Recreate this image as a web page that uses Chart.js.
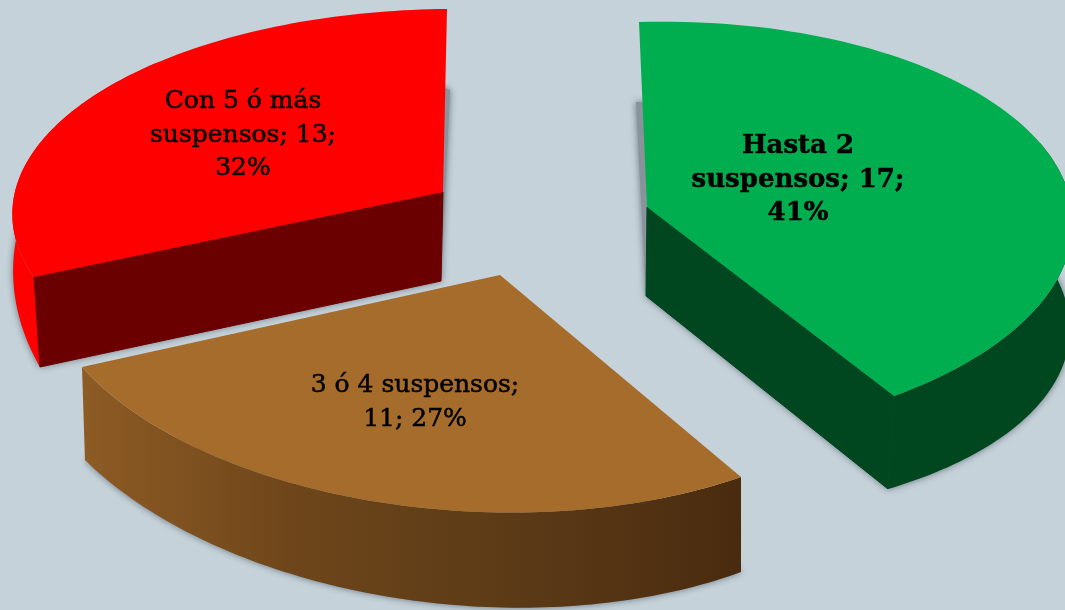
<!DOCTYPE html>
<html>
<head>
<meta charset="utf-8">
<script src="https://cdn.jsdelivr.net/npm/chart.js@4/dist/chart.umd.min.js"></script>
<style>
    html, body { margin: 0; padding: 0; background: #c5d2d9; overflow: hidden; }
    canvas { display: block; }
</style>
</head>
<body>
<canvas id="suspensosChart" width="1065" height="610"></canvas>
<script>
var categories = ['Hasta 2 suspensos', '3 ó 4 suspensos', 'Con 5 ó más suspensos'];
var values = [17, 11, 13];
var topColors = ['#00ae50', '#a66c2b', '#ff0000'];

// Where each exploded slice lands on the page: a perspective view per slice.
// hub = pie centre, anchors = [degrees clockwise from 12 o'clock, x, y] on the rim
var sliceViews = [
    {
        top: { hub: [647, 207], anchors: [[0, 639, 22], [149.27, 894, 396], [74.6, 1040, 143]] },
        bottom: { hub: [646, 296], anchors: [[0, 636, 102], [149.27, 888, 489], [74.6, 1044, 258]] },
        radial: { edge: 'end', color: '#00461f' }, rim: { from: 0.5, to: 1, colors: ['#00461f'] },
        label: { x: 798, y: 153, bold: true, size: 26 }
    },
    {
        top: { hub: [500, 275], anchors: [[149.27, 741, 477], [245.85, 82, 367], [197.6, 378, 502]] },
        bottom: { hub: [500, 360], anchors: [[149.27, 741, 572], [245.85, 85, 460], [197.6, 396, 598]] },
        radial: null, rim: { from: 0, to: 1, colors: ['#4a2b0f', '#5a3a16', '#6d451a', '#8d5b24'] },
        label: { x: 415, y: 392, bold: false, size: 25 }
    },
    {
        top: { hub: [443, 192], anchors: [[245.85, 34, 277], [360, 447, 9], [303, 103, 90]] },
        bottom: { hub: [441, 281], anchors: [[245.85, 40, 367], [360, 450, 90], [303, 150, 90]] },
        radial: { edge: 'start', color: '#6a0000' }, rim: { from: 0, to: 0.6, colors: ['#ff0000'] },
        label: { x: 243, y: 108, bold: false, size: 25 }
    }
];

function solveLinear(m) {
    var n = m.length;
    for (var i = 0; i < n; i++) {
        var best = i;
        for (var r = i + 1; r < n; r++) {
            if (Math.abs(m[r][i]) > Math.abs(m[best][i])) best = r;
        }
        var tmp = m[i]; m[i] = m[best]; m[best] = tmp;
        for (var k = 0; k < n; k++) {
            if (k === i) continue;
            var f = m[k][i] / m[i][i];
            for (var c = i; c <= n; c++) m[k][c] -= f * m[i][c];
        }
    }
    return m.map(function(row, idx) { return row[n] / row[idx]; });
}

// returns a function from a point on the unit pie to page x,y
function makeProjection(face) {
    var pairs = [[0, 0, face.hub[0], face.hub[1]]];
    face.anchors.forEach(function(a) {
        var rad = a[0] * Math.PI / 180 - Math.PI / 2;
        pairs.push([Math.cos(rad), Math.sin(rad), a[1], a[2]]);
    });
    var rows = [];
    pairs.forEach(function(p) {
        rows.push([p[0], p[1], 1, 0, 0, 0, -p[0] * p[2], -p[1] * p[2], p[2]]);
        rows.push([0, 0, 0, p[0], p[1], 1, -p[0] * p[3], -p[1] * p[3], p[3]]);
    });
    var h = solveLinear(rows);
    return function(ux, uy) {
        var w = h[6] * ux + h[7] * uy + 1;
        return [(h[0] * ux + h[1] * uy + h[2]) / w, (h[3] * ux + h[4] * uy + h[5]) / w];
    };
}

function rimPoints(project, startAngle, endAngle, from, to) {
    var pts = [];
    var steps = 90;
    for (var i = 0; i <= steps; i++) {
        var a = startAngle + (endAngle - startAngle) * (from + (to - from) * i / steps);
        pts.push(project(Math.cos(a), Math.sin(a)));
    }
    return pts;
}

function tracePolygon(ctx, pts) {
    ctx.beginPath();
    pts.forEach(function(p, i) {
        if (i === 0) ctx.moveTo(p[0], p[1]); else ctx.lineTo(p[0], p[1]);
    });
    ctx.closePath();
}

var slices3d = {
    id: 'slices3d',
    beforeDatasetsDraw: function(chart) {
        var ctx = chart.ctx;
        var arcs = chart.getDatasetMeta(0).data;
        arcs.forEach(function(arc, i) {
            var view = sliceViews[i];
            var topFace = makeProjection(view.top);
            var botFace = makeProjection(view.bottom);
            var s = arc.startAngle, e = arc.endAngle;
            var topRim = rimPoints(topFace, s, e, 0, 1);
            var botRim = rimPoints(botFace, s, e, 0, 1);

            // soft shadow under the slice
            ctx.save();
            ctx.shadowColor = 'rgba(40,50,60,0.6)';
            ctx.shadowBlur = 7;
            ctx.fillStyle = '#88939b';
            tracePolygon(ctx, [botFace(0, 0)].concat(botRim));
            ctx.fill();
            ctx.restore();

            // outer wall
            var wallTop = rimPoints(topFace, s, e, view.rim.from, view.rim.to);
            var wallBot = rimPoints(botFace, s, e, view.rim.from, view.rim.to);
            var xs = wallBot.map(function(p) { return p[0]; });
            var grad = ctx.createLinearGradient(Math.max.apply(null, xs), 0, Math.min.apply(null, xs), 0);
            view.rim.colors.forEach(function(c, n, all) {
                grad.addColorStop(all.length > 1 ? n / (all.length - 1) : 0, c);
            });
            ctx.fillStyle = grad;
            tracePolygon(ctx, wallTop.concat(wallBot.slice().reverse()));
            ctx.fill();

            // cut face that looks at the viewer
            if (view.radial) {
                var idx = view.radial.edge === 'start' ? 0 : topRim.length - 1;
                ctx.fillStyle = view.radial.color;
                ctx.strokeStyle = view.radial.color;
                ctx.lineWidth = 1;
                tracePolygon(ctx, [topFace(0, 0), topRim[idx], botRim[idx], botFace(0, 0)]);
                ctx.fill();
                ctx.stroke();
            }

            // top of the slice
            ctx.fillStyle = arc.options.backgroundColor;
            tracePolygon(ctx, [topFace(0, 0)].concat(topRim));
            ctx.fill();
        });
        return false; // the default flat arcs are replaced by the above
    },
    afterDraw: function(chart) {
        var ctx = chart.ctx;
        var total = values.reduce(function(a, b) { return a + b; }, 0);
        ctx.save();
        ctx.fillStyle = '#000';
        ctx.strokeStyle = '#000';
        ctx.lineWidth = 0.5;
        ctx.textAlign = 'center';
        ctx.textBaseline = 'alphabetic';
        categories.forEach(function(cat, i) {
            var lab = sliceViews[i].label;
            ctx.font = (lab.bold ? 'bold ' : '') + lab.size + 'px "DejaVu Serif"';
            var text = cat + '; ' + values[i] + '; ' + Math.round(values[i] / total * 100) + '%';
            var lines = [], line = '';
            text.split(' ').forEach(function(word) {
                var next = line ? line + ' ' + word : word;
                if (ctx.measureText(next).width > 235 && line) { lines.push(line); line = word; }
                else line = next;
            });
            lines.push(line);
            lines.forEach(function(l, n) {
                ctx.fillText(l, lab.x, lab.y + n * 33.5);
                ctx.strokeText(l, lab.x, lab.y + n * 33.5);
            });
        });
        ctx.restore();
    }
};

new Chart(document.getElementById('suspensosChart').getContext('2d'), {
    type: 'pie',
    data: {
        labels: categories,
        datasets: [{ data: values, backgroundColor: topColors, borderWidth: 0 }]
    },
    options: {
        responsive: false,
        animation: false,
        plugins: { legend: { display: false }, tooltip: { enabled: false } }
    },
    plugins: [slices3d]
});
</script>
</body>
</html>
